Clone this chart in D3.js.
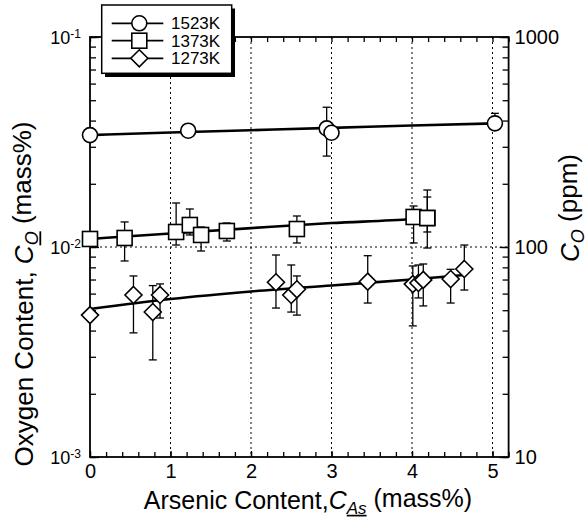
<!DOCTYPE html>
<html><head><meta charset="utf-8">
<script src="https://cdn.jsdelivr.net/npm/d3@7"></script>
<style>
body{margin:0;background:#fff;}
svg{display:block;font-family:"Liberation Sans",Arial,Helvetica,sans-serif;}
</style></head><body>
<svg id="c" width="588" height="519"></svg>
<script>
// ---- data ----
const seriesNames = ["1523K", "1373K", "1273K"];
// [As mass%, O mass%, error low, error high]
const pts1523 = [
  [0.00, 0.0341, null, null],
  [1.22, 0.0358, null, null],
  [2.94, 0.0367, 0.0271, 0.0463],
  [3.00, 0.0350, null, null],
  [5.03, 0.0388, 0.0388, 0.0433]
];
const pts1373 = [
  [0.00, 0.01092, null, null],
  [0.43, 0.01104, 0.00858, 0.01316],
  [1.07, 0.01179, 0.01022, 0.01620],
  [1.24, 0.01273, 0.01141, 0.01517],
  [1.38, 0.01141, 0.00957, 0.01245],
  [1.70, 0.01192, 0.01068, 0.01301],
  [2.57, 0.01218, 0.01045, 0.01405],
  [4.02, 0.01390, 0.01045, 0.01568],
  [4.19, 0.01374, 0.00989, 0.01868],
  [4.19, 0.01374, 0.01179, 0.01730]
];
const pts1273 = [
  [0.00, 0.00474, null, null],
  [0.54, 0.00591, 0.00390, 0.00728],
  [0.78, 0.00490, 0.00290, 0.00655],
  [0.87, 0.00591, 0.00459, 0.00667],
  [2.31, 0.00679, 0.00512, 0.00916],
  [2.50, 0.00591, 0.00490, 0.00821],
  [2.57, 0.00629, 0.00474, 0.00728],
  [3.45, 0.00684, 0.00541, 0.00909],
  [4.01, 0.00666, 0.00421, 0.00812],
  [4.08, 0.00674, 0.00572, 0.00821],
  [4.14, 0.00697, 0.00524, 0.00830],
  [4.48, 0.00704, 0.00541, 0.00783],
  [4.65, 0.00786, 0.00624, 0.01022]
];
// fitted lines, read at a few points
const fit1523 = [[0, 0.0341], [1, 0.0351], [2, 0.0360], [3, 0.0369], [4, 0.0379], [5.03, 0.0388]];
const fit1373 = [[0, 0.01092], [1, 0.0116], [2, 0.0123], [3, 0.0130], [4, 0.0136], [4.2, 0.0138]];
const fit1273 = [[0, 0.00507], [1, 0.00565], [2, 0.00614], [3, 0.00656], [4, 0.00700], [4.65, 0.00736]];

const xTicks = [0, 1, 2, 3, 4, 5];
const xGrid = [1, 2, 3, 4, 5];
const yLeftTicks = [1e-3, 1e-2, 1e-1];
const yLeftExp = ["-3", "-2", "-1"];
const yRightTicks = [10, 100, 1000];

// ---- layout ----
const L = 90, R = 508.6, T = 37, B = 457;
const x = d3.scaleLinear().domain([0, 5.2]).range([L, R]);
const y = d3.scaleLog().domain([1e-3, 1e-1]).range([B, T]);
const y2 = d3.scaleLog().domain([10, 1000]).range([B, T]);
const svg = d3.select("#c");

// grid
svg.append("g").selectAll("line").data(xGrid).join("line")
  .attr("x1", d => x(d)).attr("x2", d => x(d)).attr("y1", T).attr("y2", B)
  .attr("stroke", "#000").attr("stroke-width", 1).attr("stroke-dasharray", "2,3");
svg.append("line").attr("x1", L).attr("x2", R).attr("y1", y(1e-2)).attr("y2", y(1e-2))
  .attr("stroke", "#000").attr("stroke-width", 1).attr("stroke-dasharray", "2,3");

// axes (ticks inward)
const minorX = d3.range(0, 5.2001, 0.2);
function styleAxis(g) { g.select(".domain").remove(); g.selectAll("line").attr("stroke-width", 1.3); }
svg.append("g").attr("transform", `translate(0,${B})`)
  .call(d3.axisBottom(x).tickValues(minorX).tickSize(-5).tickFormat("")).call(styleAxis);
svg.append("g").attr("transform", `translate(0,${B})`)
  .call(d3.axisBottom(x).tickValues(xTicks).tickSize(-6).tickPadding(7).tickFormat(d3.format("d")))
  .call(styleAxis)
  .selectAll("text").attr("font-size", 20).attr("font-family", "Liberation Sans, Arial, sans-serif").attr("fill", "#000");
svg.append("g").attr("transform", `translate(0,${T})`)
  .call(d3.axisTop(x).tickValues(minorX).tickSize(-5).tickFormat("")).call(styleAxis);

const minorY = y.ticks();
svg.append("g").attr("transform", `translate(${L},0)`)
  .call(d3.axisLeft(y).tickValues(minorY).tickSize(-6).tickFormat("")).call(styleAxis);
svg.append("g").attr("transform", `translate(${L},0)`)
  .call(d3.axisLeft(y).tickValues(yLeftTicks).tickSize(-9).tickFormat("")).call(styleAxis);
const minorY2 = y2.ticks();
svg.append("g").attr("transform", `translate(${R},0)`)
  .call(d3.axisRight(y2).tickValues(minorY2).tickSize(-6).tickFormat("")).call(styleAxis);
svg.append("g").attr("transform", `translate(${R},0)`)
  .call(d3.axisRight(y2).tickValues(yRightTicks).tickSize(-9).tickPadding(6).tickFormat(d3.format("d")))
  .call(styleAxis)
  .selectAll("text").attr("font-size", 20).attr("font-family", "Liberation Sans, Arial, sans-serif").attr("fill", "#000");

// left labels 10^n
yLeftTicks.forEach((v, i) => {
  const t = svg.append("text").attr("x", L - 9).attr("y", y(v)).attr("dy", "0.4em")
    .attr("text-anchor", "end").attr("font-size", 18);
  t.append("tspan").text("10");
  t.append("tspan").attr("dy", "-0.55em").attr("font-size", 12).text(yLeftExp[i]);
});

// frame
svg.append("rect").attr("x", L).attr("y", T).attr("width", R - L).attr("height", B - T)
  .attr("fill", "none").attr("stroke", "#000").attr("stroke-width", 1.8);

// error bars
const cap = 4;
function errorBars(data) {
  const g = svg.append("g").attr("stroke", "#000").attr("stroke-width", 1.3);
  data.filter(d => d[2] != null).forEach(d => {
    const cx = x(d[0]);
    g.append("line").attr("x1", cx).attr("x2", cx).attr("y1", y(d[2])).attr("y2", y(d[3]));
    [d[2], d[3]].forEach(e => {
      if (e !== d[1]) g.append("line").attr("x1", cx - cap).attr("x2", cx + cap).attr("y1", y(e)).attr("y2", y(e));
    });
  });
}
errorBars(pts1523); errorBars(pts1373); errorBars(pts1273);

// fit lines
const line = d3.line().x(d => x(d[0])).y(d => y(d[1])).curve(d3.curveMonotoneX);
[fit1523, fit1373, fit1273].forEach(f => {
  svg.append("path").attr("d", line(f)).attr("fill", "none").attr("stroke", "#000").attr("stroke-width", 2.6);
});

// markers
const symCircle = (g, cx, cy) => g.append("circle").attr("cx", cx).attr("cy", cy).attr("r", 7.5);
const symSquare = (g, cx, cy) => g.append("rect").attr("x", cx - 7.5).attr("y", cy - 7.5).attr("width", 15).attr("height", 15);
const symDiamond = (g, cx, cy) => g.append("path").attr("d", `M${cx},${cy - 8.5}L${cx + 8.5},${cy}L${cx},${cy + 8.5}L${cx - 8.5},${cy}Z`);
function markers(data, sym) {
  const g = svg.append("g").attr("fill", "#fff").attr("stroke", "#000").attr("stroke-width", 1.6);
  data.forEach(d => sym(g, x(d[0]), y(d[1])));
}
markers(pts1523, symCircle);
markers(pts1373, symSquare);
markers(pts1273, symDiamond);

// legend
const lg = svg.append("g");
lg.append("rect").attr("x", 105).attr("y", 8.5).attr("width", 130).attr("height", 68.5).attr("fill", "#000");
lg.append("rect").attr("x", 101.7).attr("y", 5).attr("width", 130).attr("height", 68.3)
  .attr("fill", "#fff").attr("stroke", "#000").attr("stroke-width", 1.5);
const syms = [symCircle, symSquare, symDiamond];
const rowY = [23.3, 40.7, 58.3];
seriesNames.forEach((n, i) => {
  lg.append("line").attr("x1", 111.7).attr("x2", 163.3).attr("y1", rowY[i]).attr("y2", rowY[i])
    .attr("stroke", "#000").attr("stroke-width", 1.8);
  const g = lg.append("g").attr("fill", "#fff").attr("stroke", "#000").attr("stroke-width", 1.6);
  syms[i](g, 139.3, rowY[i]);
  lg.append("text").attr("x", 171).attr("y", rowY[i]).attr("dy", "0.36em").attr("font-size", 17).text(n);
});

// axis titles
const xt = svg.append("text").attr("x", 308).attr("y", 509).attr("text-anchor", "middle").attr("font-size", 25);
xt.append("tspan").text("Arsenic Content,");
xt.append("tspan").attr("font-style", "italic").text("C");
xt.append("tspan").attr("font-style", "italic").attr("font-size", 17).attr("dy", "0.28em")
  .style("text-decoration", "underline").text("As");
xt.append("tspan").attr("dy", "-0.28em").text(" (mass%)");

const yt = svg.append("text").attr("transform", `translate(33,294) rotate(-90)`)
  .attr("text-anchor", "middle").attr("font-size", 26);
yt.append("tspan").text("Oxygen Content, ");
yt.append("tspan").attr("font-style", "italic").text("C");
yt.append("tspan").attr("font-style", "italic").attr("font-size", 18).attr("dy", "0.3em")
  .style("text-decoration", "underline").text("O");
yt.append("tspan").attr("dy", "-0.3em").text(" (mass%)");

const yt2 = svg.append("text").attr("transform", `translate(579,208) rotate(-90)`)
  .attr("text-anchor", "middle").attr("font-size", 26);
yt2.append("tspan").attr("font-style", "italic").text("C");
yt2.append("tspan").attr("font-style", "italic").attr("font-size", 18).attr("dy", "0.3em").text("O");
yt2.append("tspan").attr("dy", "-0.3em").text(" (ppm)");
</script>
</body></html>
